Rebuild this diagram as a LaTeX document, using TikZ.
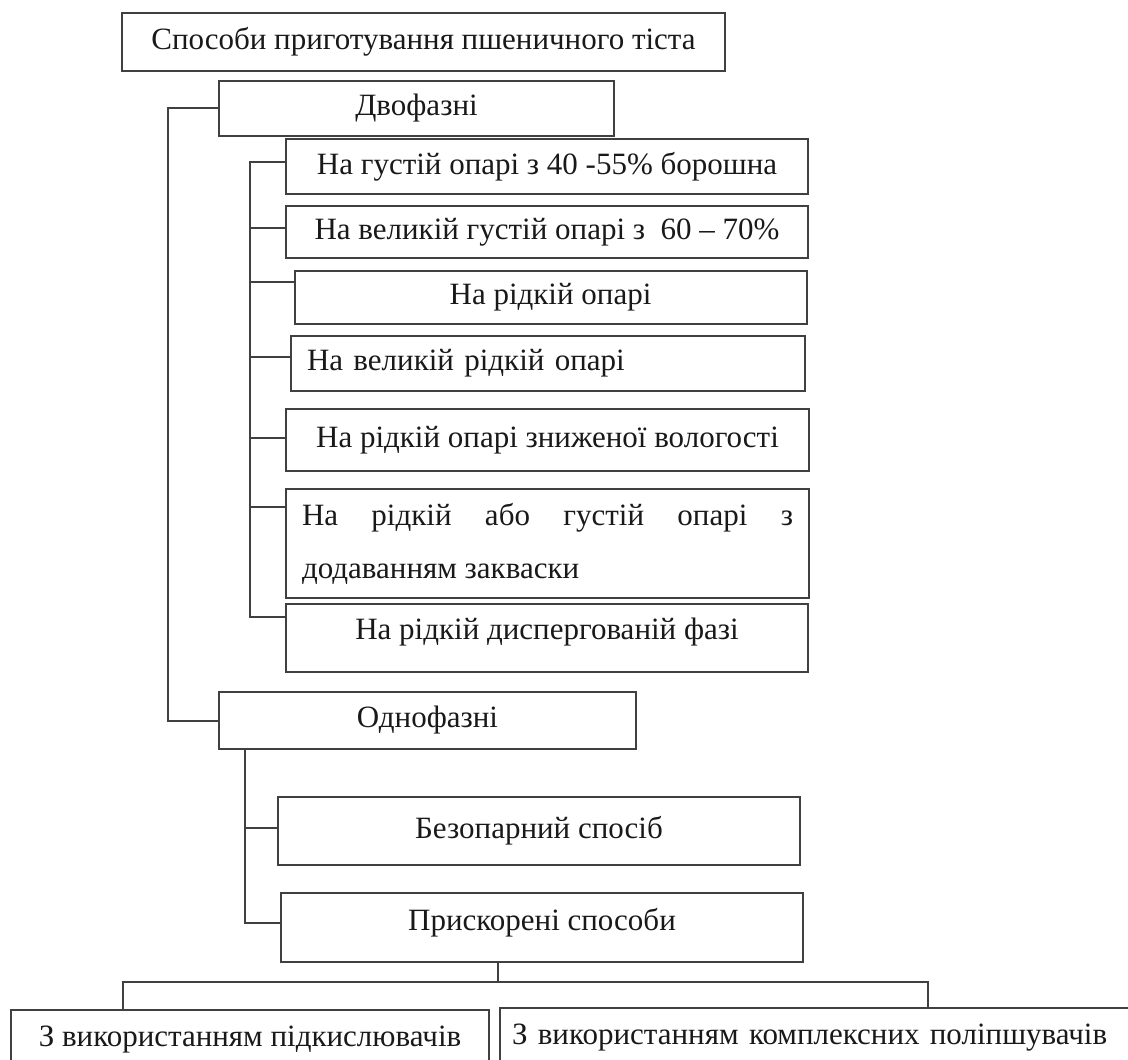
\documentclass[tikz,border=0pt]{standalone}
\usepackage{fontspec}
\setmainfont{Liberation Serif}
\usetikzlibrary{positioning,calc}

\tikzset{
  box/.style={draw=black!75, line width=1pt, anchor=north west, inner sep=0pt, outer sep=0pt,
    align=center, text=black!90, font=\fontsize{15.5}{26.5}\selectfont},
  raised/.style={text depth=#1},
  link/.style={draw=black!75, line width=1pt}
}

\begin{document}
\begin{tikzpicture}[x=0.5pt,y=-0.5pt]
  \useasboundingbox (0,0) rectangle (1128,1059);
  \clip (0,0) rectangle (1128,1059);
  % top level
  \node[box, minimum width=301.5pt, minimum height=29pt] (top) at (122,13) {Способи приготування пшеничного тіста};
  \node[box, minimum width=197.5pt, minimum height=27.5pt] (dvo) at (219,81) {Двофазні};
  % two-phase methods
  \node[box, minimum width=261pt, minimum height=27.5pt] (b1) at (286,139) {На густій опарі з 40 -55\% борошна};
  \node[box, minimum width=261pt, minimum height=26pt] (b2) at (286,206) {На великій густій опарі з~~60 – 70\%};
  \node[box, minimum width=256pt, minimum height=26.5pt] (b3) at (294.5,271) {На рідкій опарі};
  \node[box, text width=241pt, inner xsep=8pt, minimum height=27.5pt, align=left] (b4) at (291,336) {На великій рідкій опарі};
  \node[box, minimum width=261.5pt, minimum height=31pt] (b5) at (286,409) {На рідкій опарі зниженої вологості};
  \node[box, text width=245.5pt, inner xsep=8pt, minimum height=54.5pt, align=justify] (b6) at (286,489) {На рідкій або густій опарі з\linebreak додаванням закваски};
  \node[box, raised=9pt, minimum width=261pt, minimum height=34pt] (b7) at (286,604) {На рідкій диспергованій фазі};
  % one-phase methods
  \node[box, minimum width=208.5pt, minimum height=28.5pt] (odno) at (219,692) {Однофазні};
  \node[box, minimum width=261pt, minimum height=34pt] (bez) at (278,797) {Безопарний спосіб};
  \node[box, raised=8pt, minimum width=261pt, minimum height=34.5pt] (pri) at (281,893) {Прискорені способи};
  \node[box, raised=13.5pt, minimum width=239pt, minimum height=40pt] (zl) at (11,1010) {З використанням підкислювачів};
  \node[box, raised=13.5pt, text width=320pt, inner xsep=6pt, minimum height=40pt, align=left] (zr) at (500,1008) {З використанням комплексних поліпшувачів};

  \draw[link] (dvo.west) -- ++(-51,0) |- (odno.west);
  \draw[link] ($(b1.north west)+(0,23)$) -| ($(b7.north west)+(-36,13)$) -- ($(b7.north west)+(0,13)$);
  \draw[link] ($(b2.north west)+(0,22)$) -- ++(-36,0);
  \draw[link] ($(b3.north west)+(0,11)$) -- ++(-44.5,0);
  \draw[link] ($(b4.north west)+(0,21)$) -- ++(-41,0);
  \draw[link] ($(b5.north west)+(0,29)$) -- ++(-36,0);
  \draw[link] ($(b6.north west)+(0,18)$) -- ++(-36,0);

  \draw[link] ($(odno.south west)+(26,0)$) |- ($(pri.north west)+(0,30)$);
  \draw[link] ($(bez.north west)+(0,31)$) -- ++(-33,0);
  \draw[link] ($(pri.south west)+(217,0)$) -- ++(0,20);
  \draw[link] ($(zl.north west)+(112,0)$) -- ++(0,-28) -| ($(zr.north west)+(428,0)$);
\end{tikzpicture}
\end{document}
